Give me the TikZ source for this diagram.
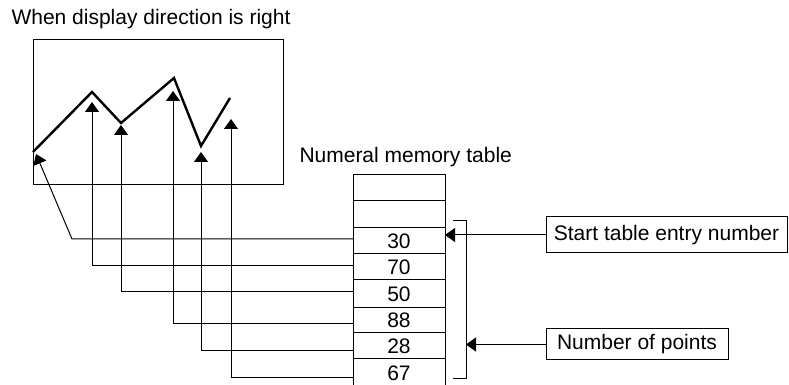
\documentclass[tikz,border=0pt]{standalone}
\usepackage{fontspec}
\setmainfont{Liberation Sans}
\usetikzlibrary{arrows.meta,positioning,calc}
\tikzset{
  cell/.style={draw,line width=0.5pt,minimum width=46pt,inner sep=0pt,outer sep=0pt},
  pointer/.style={line width=0.5pt,-{Triangle[width=7pt,length=5pt]}},
  labelbox/.style={draw,line width=0.5pt,inner sep=0pt}
}
\begin{document}
\begin{tikzpicture}[x=0.5pt,y=-0.5pt,font=\fontsize{10.5}{12.6}\selectfont,line width=0.5pt]
  \useasboundingbox (0,0) rectangle (789,385);
  \clip (0,0) rectangle (789,385);
  % display window with the trend line
  \node[anchor=base west,inner sep=0pt] (title) at (11,25) {When display direction is right};
  \draw (33,40) rectangle (283,185);
  \draw[line width=1.2pt,line join=miter]
    (33,152) -- (92,92) -- (121,123) -- (174,78) -- (201,146) -- (230,98);
  \coordinate (t0) at (36,154);
  \coordinate (t1) at (92,102);
  \coordinate (t2) at (121,125);
  \coordinate (t3) at (173,91);
  \coordinate (t4) at (201,152);
  \coordinate (t5) at (231,119);
  \coordinate (k0) at (72,239);
  % numeral memory table
  \node[anchor=base west,inner sep=0pt] (tabtitle) at (299,163) {Numeral memory table};
  \node[cell,minimum height=13pt,anchor=north] (c1) at (399,175) {};
  \node[cell,minimum height=13.5pt,below=0pt of c1] (c2) {};
  \node[cell,minimum height=13pt,below=0pt of c2] (c3) {30};
  \node[cell,minimum height=13pt,below=0pt of c3] (c4) {70};
  \node[cell,minimum height=14pt,below=0pt of c4] (c5) {50};
  \node[cell,minimum height=12.5pt,below=0pt of c5] (c6) {88};
  \node[cell,minimum height=13pt,below=0pt of c6] (c7) {28};
  \node[cell,minimum height=14pt,below=0pt of c7] (c8) {67};
  % table entries to the plotted points
  \draw[pointer] ([yshift=1pt]c3.west) -- (k0) -- (t0);
  \draw[pointer] ([yshift=0.5pt]c4.west) -| (t1);
  \draw[pointer] ([yshift=1pt]c5.west) -| (t2);
  \draw[pointer] ([yshift=-1.75pt]c6.west) -| (t3);
  \draw[pointer] ([yshift=-2.5pt]c7.west) -| (t4);
  \draw[pointer] ([yshift=-2.5pt]c8.west) -| (t5);
  % bracket over the used entries
  \draw (453,221) -| (466,379) -- (453,379);
  \coordinate (brk) at (466,346);
  \node[labelbox,minimum width=120.5pt,minimum height=18pt] (start) at (666.5,235) {Start table entry number};
  \node[labelbox,minimum width=91pt,minimum height=15.5pt] (npts) at (637,344.5) {Number of points};
  \draw[pointer] (start.west) -- (start.west -| c3.east);
  \draw[pointer] (npts.west) -- (npts.west -| brk);
\end{tikzpicture}
\end{document}
